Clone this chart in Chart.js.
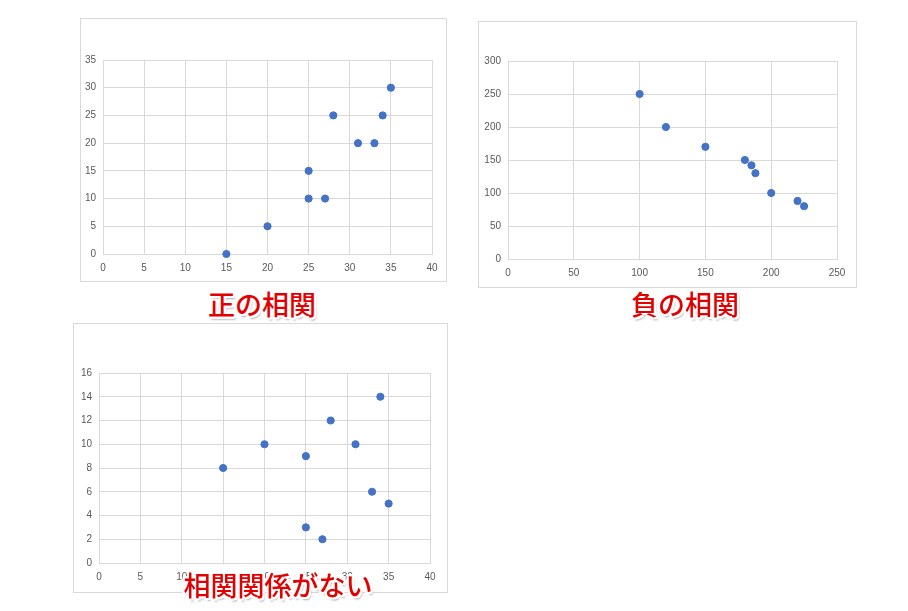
<!DOCTYPE html>
<html>
<head>
<meta charset="utf-8">
<script src="https://cdn.jsdelivr.net/npm/chart.js@4.4.1/dist/chart.umd.min.js"></script>
<style>
  body { margin: 0; background: #fff; width: 908px; height: 611px; position: relative; overflow: hidden; }
  .frame { position: absolute; border: 1px solid #d9d9d9; box-sizing: border-box; background: #fff; }
  .frame canvas { display: block; }
  .label {
    position: absolute; color: #e30000; font-family: "Noto Sans CJK JP", sans-serif;
    font-weight: 500; font-size: 27px; line-height: 1; white-space: nowrap;
    transform: translate(-50%, -50%);
    text-shadow:
      -2px -2px 0 #fff, 2px -2px 0 #fff, -2px 2px 0 #fff, 2px 2px 0 #fff,
      0 -2px 0 #fff, 0 2px 0 #fff, -2px 0 0 #fff, 2px 0 0 #fff,
      2px 3px 2px rgba(0,0,0,0.35);
    z-index: 5;
  }
</style>
</head>
<body>
<div class="frame" id="f1" style="left:80px; top:18px; width:367px; height:264px;"><canvas id="c1"></canvas></div>
<div class="frame" id="f2" style="left:478px; top:21px; width:379px; height:267px;"><canvas id="c2"></canvas></div>
<div class="frame" id="f3" style="left:73px; top:323px; width:375px; height:270px;"><canvas id="c3"></canvas></div>

<div class="label" style="left:262px; top:303px;">正の相関</div>
<div class="label" style="left:685px; top:303px;">負の相関</div>
<div class="label" style="left:278px; top:584px;">相関関係がない</div>

<script>
// 正の相関
const posX = [15, 20, 25, 25, 27, 28, 31, 33, 34, 35];
const posY = [0, 5, 10, 15, 10, 25, 20, 20, 25, 30];

// 負の相関
const negX = [100, 120, 150, 180, 185, 188, 200, 220, 225];
const negY = [250, 200, 170, 150, 142, 130, 100, 88, 80];

// 相関関係がない
const noneX = [15, 20, 25, 25, 27, 28, 31, 33, 34, 35];
const noneY = [8, 10, 9, 3, 2, 12, 10, 6, 14, 5];

const POINT_COLOR = "#4472c4";
const GRID_COLOR = "#d9d9d9";
const TICK_COLOR = "#595959";

function toPoints(xs, ys) {
  return xs.map((x, i) => ({ x: x, y: ys[i] }));
}

// box: plot area offsets inside the frame (left, top, right, bottom)
function makeScatter(id, xs, ys, xAxis, yAxis, box) {
  const ctx = document.getElementById(id).getContext("2d");
  return new Chart(ctx, {
    type: "scatter",
    data: {
      datasets: [
        {
          data: toPoints(xs, ys),
          backgroundColor: POINT_COLOR,
          borderColor: POINT_COLOR,
          pointRadius: 3.6,
          pointHoverRadius: 3.6,
          clip: false,
        },
      ],
    },
    options: {
      responsive: true,
      maintainAspectRatio: false,
      animation: false,
      layout: { padding: { top: box.top, right: box.right, left: 0, bottom: 0 } },
      plugins: { legend: { display: false }, tooltip: { enabled: false } },
      scales: {
        x: {
          type: "linear",
          min: xAxis.min,
          max: xAxis.max,
          ticks: {
            stepSize: xAxis.step,
            color: TICK_COLOR,
            font: { family: "Liberation Sans", size: 10 },
            padding: 8,
            maxRotation: 0,
          },
          grid: { color: GRID_COLOR, drawTicks: false },
          border: { color: GRID_COLOR },
          afterFit: (scale) => { scale.height = box.bottom; },
        },
        y: {
          type: "linear",
          min: yAxis.min,
          max: yAxis.max,
          ticks: {
            stepSize: yAxis.step,
            color: TICK_COLOR,
            font: { family: "Liberation Sans", size: 10 },
            padding: 7,
          },
          grid: { color: GRID_COLOR, drawTicks: false },
          border: { color: GRID_COLOR },
          afterFit: (scale) => { scale.width = box.left; },
        },
      },
    },
  });
}

makeScatter("c1", posX, posY,
  { min: 0, max: 40, step: 5 }, { min: 0, max: 35, step: 5 },
  { left: 22, top: 41, right: 14, bottom: 27 });

makeScatter("c2", negX, negY,
  { min: 0, max: 250, step: 50 }, { min: 0, max: 300, step: 50 },
  { left: 29, top: 39, right: 19, bottom: 28 });

makeScatter("c3", noneX, noneY,
  { min: 0, max: 40, step: 5 }, { min: 0, max: 16, step: 2 },
  { left: 25, top: 49, right: 17, bottom: 29 });
</script>
</body>
</html>
